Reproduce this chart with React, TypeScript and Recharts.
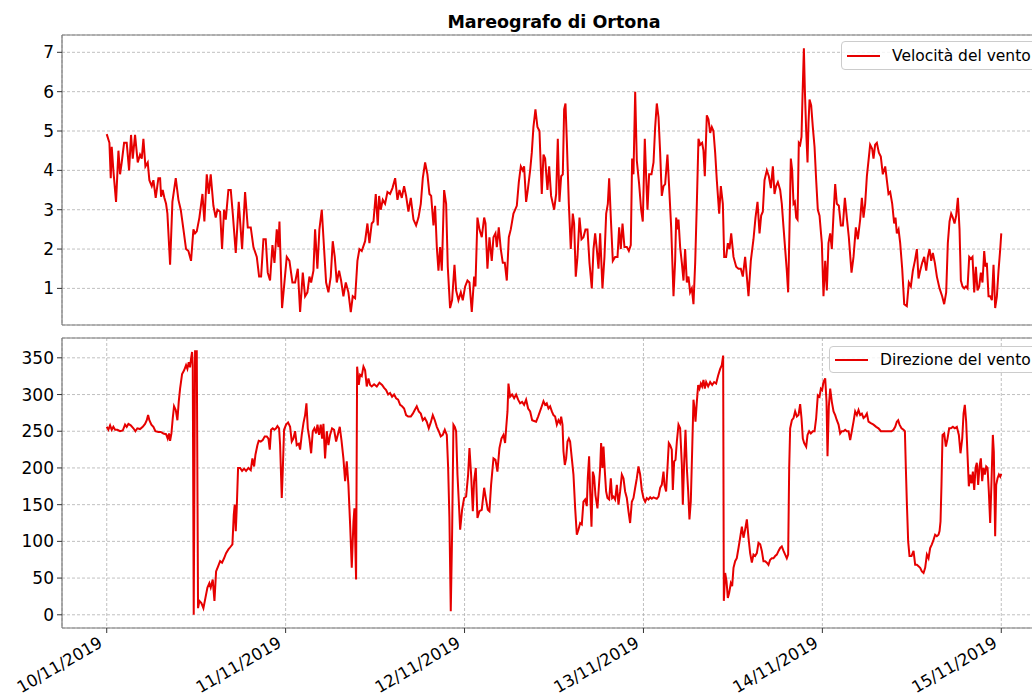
import React from 'react';
import { LineChart, Line, XAxis, YAxis, CartesianGrid, Legend } from 'recharts';

const FONT = '"DejaVu Sans", sans-serif';
const RED = '#e60000';

// hours since 10/11/2019 00:00
const dayTicks = [0, 24, 48, 72, 96, 120];
const dayLabels = ['10/11/2019', '11/11/2019', '12/11/2019', '13/11/2019', '14/11/2019', '15/11/2019'];
const speedTicks = [1, 2, 3, 4, 5, 6, 7];
const dirTicks = [0, 50, 100, 150, 200, 250, 300, 350];

const speedHours = [
  0, 0.36, 0.54, 0.67, 0.89, 1.25, 1.57, 1.79, 2.01, 2.33, 2.68, 3.0, 3.26, 3.49, 3.8, 4.16, 4.47, 4.7, 4.92, 5.19,
  5.5, 5.72, 6.04, 6.26, 6.57, 6.93, 7.16, 7.29, 7.51, 7.74, 7.96, 8.14, 8.5, 8.81, 9.26, 9.62, 9.93, 10.29, 10.64, 10.96,
  11.31, 11.63, 11.85, 12.08, 12.43, 12.84, 13.1, 13.42, 13.69, 13.95, 14.31, 14.62, 14.85, 15.21, 15.47, 15.74, 15.97, 16.32, 16.64, 16.91,
  17.31, 17.71, 18.16, 18.56, 18.92, 19.32, 19.68, 20.13, 20.44, 20.71, 21.02, 21.33, 21.6, 21.91, 22.23, 22.5, 22.81, 23.03, 23.17, 23.52,
  23.79, 24.15, 24.51, 24.91, 25.27, 25.63, 25.94,
  26.3, 26.61, 26.92, 27.19, 27.42, 27.73, 27.95, 28.26, 28.53, 28.85, 29.16, 29.43, 29.74, 30.05, 30.32, 30.59, 30.86, 31.17, 31.44, 31.75,
  32.07, 32.42, 32.74, 33.0, 33.32, 33.63, 33.9, 34.21, 34.66, 34.97, 35.24, 35.55, 35.78, 36.09, 36.36, 36.54, 36.76, 37.03, 37.34, 37.66,
  38.01, 38.33, 38.69, 39.0, 39.27, 39.58, 39.89, 40.16, 40.47, 40.79, 41.15, 41.5, 41.82, 42.13, 42.4, 42.71, 43.02, 43.29, 43.52, 43.83,
  44.05, 44.28, 44.5, 44.72, 44.95, 45.26, 45.53, 45.75, 46.06, 46.33, 46.65, 46.87, 47.18, 47.5, 47.76, 48.08, 48.39, 48.66, 48.97, 49.29,
  49.46, 49.73, 50.0, 50.31, 50.63, 50.81, 51.07, 51.34, 51.65, 51.88, 52.15, 52.33, 52.59, 52.86, 53.13, 53.4, 53.67, 53.94, 54.2, 54.56,
  54.79, 55.01, 55.28, 55.55, 55.81, 55.99, 56.26, 56.48, 56.8, 57.02, 57.24, 57.51, 57.78, 58.05,
  58.36, 58.59, 58.81, 59.12, 59.35, 59.61, 60.02, 60.29, 60.51, 60.73, 60.96, 61.18, 61.36, 61.54, 61.72, 61.99, 62.25, 62.52, 62.7, 62.92,
  63.15, 63.42, 63.69, 63.95, 64.22, 64.49, 64.76, 65.07, 65.3, 65.52, 65.74, 65.97, 66.19, 66.5, 66.77, 67.0, 67.22, 67.4, 67.62, 67.89,
  68.2, 68.52, 68.74, 68.96, 69.19, 69.45, 69.77, 70.04, 70.3, 70.48, 70.66, 70.89, 71.11, 71.42, 71.69, 71.91, 72.18, 72.36, 72.54, 72.76,
  73.08, 73.35, 73.57, 73.79, 74.02, 74.24, 74.46, 74.69, 74.91, 75.22, 75.49, 75.72, 76.03, 76.25, 76.39, 76.57, 76.7, 76.92, 77.15, 77.37,
  77.59, 77.82, 78.04, 78.26, 78.49, 78.71, 78.94, 79.16, 79.38, 79.61, 79.87, 80.05, 80.23, 80.5, 80.72, 80.95, 81.17, 81.39, 81.62, 81.84,
  82.16, 82.38, 82.65, 82.83, 83.09, 83.32, 83.54, 83.77, 84.08, 84.44, 84.75, 85.06, 85.33, 85.64, 85.87, 86.09, 86.4, 86.76, 87.03, 87.3,
  87.57, 87.79, 88.01, 88.24, 88.55, 88.82, 89.09, 89.36, 89.58, 89.8, 90.03,
  90.34, 90.56, 90.79, 91.01, 91.23, 91.41, 91.59, 91.77, 91.95, 92.13, 92.31, 92.49, 92.67, 92.84, 93.02, 93.2, 93.34, 93.52, 93.65, 93.83,
  94.01, 94.14, 94.28, 94.5, 94.72, 94.95, 95.17, 95.39, 95.62, 95.93, 96.15, 96.38, 96.6, 96.82, 97.05, 97.27, 97.5, 97.72, 97.94, 98.21,
  98.48, 98.75, 99.02, 99.28, 99.55, 99.91, 100.18, 100.49, 100.76, 101.07, 101.3, 101.52, 101.74, 101.97, 102.19, 102.41, 102.68, 102.86, 103.08, 103.31,
  103.58, 103.84, 104.11, 104.43, 104.65, 104.87, 105.1, 105.37, 105.63, 105.81, 105.99, 106.22, 106.44, 106.71, 106.98, 107.33, 107.6, 107.87, 108.14, 108.41,
  108.68, 108.9, 109.12, 109.39, 109.66, 109.93, 110.15, 110.38, 110.6, 110.82, 111.09, 111.36, 111.72, 112.07, 112.34, 112.61, 112.83, 113.06, 113.28, 113.5,
  113.73, 113.95, 114.18, 114.4, 114.58, 114.8, 115.03, 115.25, 115.47, 115.7, 115.92, 116.14, 116.37, 116.59, 116.81, 117.04, 117.26, 117.48, 117.71, 117.89,
  118.06, 118.29, 118.51, 118.74, 118.96, 119.18, 119.41, 119.63, 119.86, 120.0,
];
const speedValues = [
  4.92, 4.7, 3.8, 4.6, 4.0, 3.2, 4.5, 3.9, 4.2, 4.7, 4.7, 4.0, 4.9, 4.3, 4.9, 4.2, 4.4, 4.3, 4.8, 4.1,
  4.2, 3.75, 3.6, 3.75, 3.3, 3.8, 3.8, 3.33, 3.5, 3.3, 3.15, 2.9, 1.6, 3.2, 3.8, 3.25, 3.0, 2.5, 2.0, 1.95,
  1.7, 2.5, 2.4, 2.45, 2.8, 3.4, 2.7, 3.9, 3.4, 3.9, 3.1, 2.8, 3.0, 2.95, 2.0, 3.0, 2.75, 3.5, 3.5, 2.9,
  1.9, 3.2, 2.0, 3.45, 2.55, 2.55, 2.05, 1.8, 1.3, 1.3, 2.25, 2.25, 1.4, 1.2, 2.1, 1.65, 2.5, 2.05, 2.7, 0.5,
  1.05, 1.8, 1.7, 1.15, 1.15, 1.5, 0.4,
  1.4, 0.8, 0.9, 1.3, 1.15, 1.45, 2.5, 1.5, 2.5, 3.0, 2.0, 1.15, 0.9, 1.3, 2.2, 1.8, 1.15, 1.45, 1.2, 0.8,
  1.15, 0.9, 0.4, 0.8, 0.75, 1.7, 2.0, 1.95, 2.2, 2.65, 2.15, 2.65, 2.7, 3.4, 2.6, 3.35, 3.0, 3.25, 3.15, 3.45,
  3.4, 3.55, 3.8, 3.25, 3.5, 3.3, 3.6, 3.35, 2.95, 3.3, 2.75, 2.6, 2.8, 3.15, 3.8, 4.2, 3.9, 3.4, 3.35, 2.6,
  3.1, 2.05, 1.45, 2.05, 1.45, 3.5, 3.15, 1.55, 0.5, 0.7, 1.6, 0.95, 0.7, 0.9, 0.7, 1.05, 1.2, 1.15, 0.4, 1.3,
  1.05, 2.8, 2.5, 2.3, 2.8, 2.65, 1.5, 2.3, 1.7, 2.3, 2.4, 2.05, 2.55, 2.0, 1.65, 1.65, 1.2, 2.3, 2.5, 2.9,
  3.0, 3.1, 3.7, 4.1, 4.0, 4.1, 3.2, 3.5, 4.0, 4.45, 5.1, 5.55, 5.1, 5.0,
  3.4, 4.4, 4.3, 3.5, 4.1, 3.35, 3.0, 3.4, 4.8, 3.2, 3.85, 3.9, 5.55, 5.7, 4.75, 3.15, 2.0, 2.9, 2.65, 1.3,
  1.8, 2.8, 2.25, 2.3, 2.5, 2.5, 1.65, 1.0, 2.0, 2.4, 2.0, 1.5, 2.4, 1.0, 1.8, 2.9, 3.15, 3.8, 2.8, 1.7,
  1.8, 1.8, 2.55, 2.0, 2.65, 2.05, 2.05, 1.95, 2.1, 4.3, 3.9, 6.0, 4.25, 3.65, 3.0, 2.7, 4.8, 3.85, 3.0, 3.9,
  3.9, 4.2, 5.1, 5.7, 5.35, 4.45, 3.35, 3.6, 3.65, 4.4, 3.4, 2.55, 0.8, 1.7, 2.8, 2.5, 2.75, 2.05, 1.65, 1.2,
  2.0, 1.15, 1.3, 0.9, 1.0, 0.6, 1.65, 3.15, 4.8, 4.65, 4.7, 4.5, 3.85, 5.4, 5.3, 4.95, 5.1, 5.0, 4.45, 3.75,
  2.9, 3.6, 3.15, 1.8, 1.8, 2.15, 2.0, 2.4, 1.8, 1.55, 1.5, 1.5, 1.3, 1.8, 1.3, 0.8, 1.7, 2.25, 2.8, 3.2,
  2.4, 2.85, 2.95, 3.75, 4.0, 3.85, 3.55, 4.1, 3.4, 3.6, 3.7,
  3.5, 3.15, 2.55, 2.0, 1.45, 0.9, 2.5, 4.3, 4.0, 3.15, 3.2, 2.8, 2.75, 4.7, 4.65, 4.85, 5.9, 7.1, 6.05, 5.0,
  4.2, 5.2, 5.8, 5.65, 5.1, 4.6, 3.75, 3.0, 2.85, 2.15, 0.8, 1.7, 0.95, 2.15, 2.4, 2.0, 2.9, 3.65, 3.15, 3.1,
  2.6, 2.6, 3.3, 2.8, 2.3, 1.4, 1.8, 2.55, 2.25, 2.75, 3.3, 2.8, 3.15, 3.85, 4.25, 4.65, 4.55, 4.3, 4.65, 4.7,
  4.45, 4.35, 3.9, 4.1, 3.75, 3.4, 3.45, 3.15, 2.65, 2.8, 2.4, 2.5, 2.15, 1.5, 0.6, 0.55, 1.15, 1.05, 1.45, 1.7,
  2.0, 1.25, 1.45, 1.65, 1.8, 1.45, 1.8, 2.0, 1.7, 1.9, 1.65, 1.3, 1.0, 0.8, 0.6, 0.9, 2.15, 2.7, 2.9, 2.8,
  2.65, 2.85, 3.3, 2.5, 1.2, 1.05, 1.0, 1.05, 1.0, 1.8, 1.75, 1.8, 0.9, 1.55, 0.95, 1.05, 1.4, 1.15, 1.95, 1.55,
  1.65, 0.8, 0.8, 0.7, 1.6, 0.5, 0.8, 1.45, 2.0, 2.4,
];

const dirHours = [
  0, 0.22, 0.45, 0.67, 0.89, 1.12, 1.43, 1.79, 2.15, 2.46, 2.68, 2.91, 3.22, 3.58, 3.85, 4.11, 4.47, 4.83, 5.14, 5.37,
  5.55, 5.72, 5.99, 6.26, 6.53, 6.93, 7.25, 7.6, 7.96, 8.18, 8.36, 8.5, 8.68, 8.86, 9.03, 9.26, 9.48, 9.66, 9.84, 10.11,
  10.38, 10.64, 10.82, 11.0, 11.18, 11.31, 11.45, 11.54, 11.67, 11.85, 12.08, 12.25, 12.43, 12.7, 12.97, 13.24, 13.51, 13.77, 13.95, 14.22,
  14.45, 14.67, 14.94, 15.21, 15.47, 15.74, 16.01, 16.32, 16.64, 16.86, 17.04, 17.17, 17.31, 17.44, 17.62, 17.89, 18.16, 18.43, 18.69, 19.01,
  19.32, 19.54, 19.77, 19.95, 20.21, 20.39, 20.66, 20.93, 21.2, 21.47, 21.69, 21.87, 22.05, 22.27, 22.5, 22.72, 22.9, 23.12, 23.26, 23.48,
  23.61, 23.79, 24.06, 24.33, 24.6, 24.82, 25.04, 25.27, 25.49, 25.76,
  25.94, 26.16, 26.39, 26.61, 26.79, 26.97, 27.19, 27.42, 27.64, 27.86, 28.09, 28.27, 28.49, 28.71, 28.89, 29.07, 29.29, 29.52, 29.74, 29.96,
  30.23, 30.5, 30.77, 31.04, 31.26, 31.49, 31.75, 31.98, 32.2, 32.42, 32.65, 32.87, 33.1, 33.23, 33.45, 33.59, 33.81, 33.99, 34.21, 34.44,
  34.66, 34.88, 35.11, 35.33, 35.55, 35.87, 36.23, 36.58, 36.94, 37.21, 37.48, 37.75, 38.01, 38.28, 38.55, 38.82, 39.09, 39.36, 39.62, 39.89,
  40.16, 40.43, 40.79, 41.06, 41.32, 41.59, 41.86, 42.13, 42.4, 42.67, 42.93, 43.2, 43.47, 43.74, 44.01, 44.28, 44.54, 44.81, 45.08, 45.35,
  45.62, 45.8, 45.97, 46.15, 46.33, 46.51, 46.69, 46.87, 47.05, 47.23, 47.41, 47.67, 47.94, 48.21, 48.48, 48.66, 48.88, 49.11, 49.28, 49.51,
  49.73, 50.0, 50.31, 50.63, 50.85, 51.12, 51.34, 51.56, 51.88, 52.15, 52.41, 52.68, 52.95, 53.22, 53.44, 53.58, 53.76, 53.89, 54.11, 54.38,
  54.65, 54.92, 55.19, 55.45, 55.72, 55.99, 56.26, 56.53, 56.8, 57.07, 57.33, 57.6, 57.87,
  58.36, 58.59, 58.81, 59.03, 59.26, 59.48, 59.71, 59.93, 60.15, 60.38, 60.6, 60.82, 60.96, 61.14, 61.27, 61.45, 61.63, 61.81, 61.99, 62.16,
  62.39, 62.61, 62.84, 63.06, 63.28, 63.51, 63.73, 63.95, 64.18, 64.4, 64.53, 64.71, 64.85, 65.03, 65.21, 65.38, 65.56, 65.83, 66.01, 66.19,
  66.32, 66.5, 66.64, 66.82, 66.99, 67.17, 67.4, 67.62, 67.8, 67.98, 68.2, 68.43, 68.65, 68.87, 69.1, 69.32, 69.54, 69.77, 69.99, 70.21,
  70.44, 70.66, 70.89, 71.11, 71.33, 71.56, 71.78, 72.0, 72.23, 72.45, 72.67, 72.9, 73.12, 73.35, 73.57, 73.79, 74.02, 74.24, 74.46, 74.69,
  74.82, 75.04, 75.22, 75.4, 75.58, 75.8, 75.94, 76.12, 76.3, 76.48, 76.7, 76.92, 77.15, 77.28, 77.46, 77.64, 77.82, 78.0, 78.17, 78.35,
  78.53, 78.71, 78.85, 78.98, 79.16, 79.34, 79.52, 79.7, 79.87, 80.05, 80.23, 80.41, 80.68, 80.95, 81.22, 81.48, 81.75, 82.02, 82.29, 82.51,
  82.69, 82.78, 82.96, 83.14, 83.32, 83.5, 83.72, 83.9, 84.08, 84.3, 84.52, 84.75, 84.97, 85.2, 85.42, 85.64, 85.87, 86.09, 86.31, 86.54,
  86.76, 86.98, 87.21, 87.43, 87.66, 87.88, 88.1, 88.33, 88.55, 88.77, 89.0, 89.22, 89.44, 89.67, 89.89, 90.12,
  90.34, 90.56, 90.79, 91.01, 91.23, 91.41, 91.55, 91.68, 91.91, 92.13, 92.35, 92.58, 92.8, 93.02, 93.2, 93.38, 93.56, 93.83, 94.01, 94.23,
  94.45, 94.72, 94.95, 95.17, 95.39, 95.62, 95.8, 95.97, 96.15, 96.38, 96.56, 96.69, 96.87, 97.05, 97.27, 97.5, 97.72, 97.94, 98.17, 98.39,
  98.61, 98.84, 99.06, 99.28, 99.51, 99.73, 99.95, 100.18, 100.4, 100.63, 100.85, 101.07, 101.3, 101.52, 101.74, 101.97, 102.19, 102.5, 102.86, 103.22,
  103.53, 103.85, 104.2, 104.56, 104.92, 105.28, 105.54, 105.77, 105.99, 106.17, 106.35, 106.62, 106.89, 107.07, 107.2, 107.33, 107.51, 107.69, 107.96, 108.23,
  108.45, 108.68, 108.9, 109.12, 109.35, 109.57, 109.79, 110.02, 110.24, 110.46, 110.69, 110.91, 111.13, 111.36, 111.58, 111.72, 111.85, 111.98, 112.12, 112.34,
  112.57, 112.79, 113.01, 113.24, 113.51, 113.77, 114.04, 114.31, 114.53, 114.76, 114.94, 115.11, 115.29, 115.47, 115.65, 115.83, 116.01, 116.19, 116.37, 116.55,
  116.72, 116.9, 117.08, 117.26, 117.44, 117.62, 117.8, 117.98, 118.16, 118.33, 118.51, 118.69, 118.87, 119.0, 119.18, 119.32, 119.5, 119.68, 119.86, 120.0,
];
const dirValues = [
  256, 252, 258, 252, 256, 252, 252, 250, 251, 259, 256, 260, 258, 254, 250, 254, 253, 256, 260, 265,
  272, 265, 259, 256, 250, 249, 249, 247, 246, 240, 247, 237, 247, 268, 284, 279, 265, 290, 308, 328,
  333, 340, 335, 344, 337, 349, 358, 340, 0, 359, 359, 9, 19, 16, 9, 23, 37, 43, 37, 48,
  19, 59, 66, 73, 71, 77, 84, 89, 93, 96, 136, 150, 114, 145, 200, 200, 196, 199, 196, 200,
  197, 213, 202, 218, 231, 237, 236, 238, 243, 243, 240, 225, 252, 254, 252, 254, 257, 254, 231, 159,
  195, 252, 259, 262, 256, 236, 240, 250, 231, 233,
  225, 245, 261, 272, 288, 254, 240, 220, 250, 254, 247, 259, 245, 259, 240, 260, 213, 250, 231, 245,
  254, 252, 236, 247, 256, 238, 213, 182, 209, 177, 123, 64, 127, 145, 48, 338, 313, 327, 325, 338,
  333, 311, 322, 313, 311, 314, 311, 316, 313, 309, 306, 300, 302, 297, 300, 295, 293, 286, 284, 281,
  272, 270, 270, 274, 279, 284, 277, 274, 265, 268, 263, 254, 262, 272, 265, 256, 250, 243, 245, 252,
  245, 200, 132, 5, 109, 259, 256, 250, 191, 154, 116, 143, 159, 161, 191, 227, 191, 141, 182, 200,
  132, 141, 143, 173, 159, 143, 141, 177, 213, 211, 195, 227, 240, 245, 234, 254, 277, 315, 297, 300,
  295, 300, 293, 288, 290, 286, 293, 281, 277, 265, 264, 263, 270,
  284, 291, 286, 288, 281, 284, 277, 272, 270, 259, 265, 261, 270, 259, 223, 204, 213, 236, 240, 236,
  213, 191, 145, 109, 116, 125, 123, 154, 157, 148, 186, 216, 168, 120, 195, 188, 163, 145, 173, 200,
  234, 200, 229, 195, 168, 159, 157, 186, 159, 161, 157, 177, 150, 168, 191, 186, 168, 159, 141, 125,
  154, 159, 173, 186, 202, 191, 170, 159, 154, 159, 157, 160, 158, 160, 159, 158, 161, 173, 177, 195,
  177, 168, 200, 234, 231, 225, 170, 209, 211, 236, 259, 254, 204, 150, 207, 252, 200, 168, 130, 154,
  222, 293, 281, 263, 290, 313, 308, 315, 311, 320, 308, 317, 311, 317, 313, 317, 315, 326, 335, 340,
  353, 19, 57, 46, 23, 30, 43, 39, 64, 73, 77, 91, 105, 120, 105, 116, 130, 105, 84, 71,
  82, 80, 84, 98, 96, 87, 73, 73, 71, 68, 75, 77, 77, 80, 82, 87,
  91, 93, 87, 82, 77, 82, 200, 254, 265, 268, 277, 270, 272, 287, 268, 240, 234, 229, 245, 250,
  247, 250, 250, 268, 299, 297, 308, 306, 317, 322, 290, 216, 284, 308, 290, 277, 272, 265, 259, 247,
  250, 250, 252, 250, 250, 238, 250, 263, 277, 272, 279, 272, 274, 268, 270, 274, 263, 261, 259, 256,
  254, 250, 250, 250, 250, 250, 252, 256, 263, 265, 259, 254, 252, 250, 200, 154, 100, 80, 80, 87,
  68, 68, 66, 64, 59, 57, 64, 82, 77, 91, 96, 102, 109, 107, 109, 114, 127, 177, 245, 247,
  229, 240, 254, 254, 256, 254, 256, 245, 220, 240, 274, 286, 263, 218, 175, 191, 179, 195, 170, 200,
  207, 177, 202, 213, 182, 200, 191, 202, 200, 168, 125, 182, 245, 222, 107, 177, 186, 191, 188, 192,
];

const speedData = speedHours.map((t, i) => ({ t, v: speedValues[i] }));
const dirData = dirHours.map((t, i) => ({ t, v: dirValues[i] }));

const SPINE = '#7a7a7a';
const GRID = '#b0b0b0';

const LegendBox = ({ label, h }: { label: string; h: number }) => (
  <div
    style={{
      display: 'flex',
      alignItems: 'center',
      height: h,
      boxSizing: 'border-box',
      border: '1px solid #cccccc',
      borderRadius: 4,
      background: 'rgba(255,255,255,0.8)',
      paddingLeft: 5,
      paddingRight: 8,
      fontFamily: FONT,
      fontSize: 15.5,
      color: '#000',
      whiteSpace: 'nowrap',
    }}
  >
    <svg width={33} height={4} style={{ display: 'block' }}>
      <line x1={0} x2={33} y1={2} y2={2} stroke={RED} strokeWidth={2} />
    </svg>
    <span style={{ marginLeft: 12 }}>{label}</span>
  </div>
);

const DateTick = (props: any) => {
  const { x, y, payload } = props;
  const idx = dayTicks.indexOf(payload.value);
  const label = idx >= 0 ? dayLabels[idx] : '';
  const ax = x - 3;
  const ay = y + 11;
  return (
    <text
      x={ax}
      y={ay}
      transform={`rotate(-30 ${ax} ${ay})`}
      textAnchor="end"
      fontSize={16.5}
      fontFamily={FONT}
      fill="#000"
    >
      {label}
    </text>
  );
};

const yTick = { fontSize: 17, fill: '#000', fontFamily: FONT };

export default function App() {
  return (
    <div
      style={{
        position: 'absolute',
        left: 0,
        top: 0,
        width: 1032,
        height: 699,
        overflow: 'hidden',
        background: '#fff',
        fontFamily: FONT,
      }}
    >
      <div style={{ position: 'absolute', left: 0, top: 0 }}>
        <LineChart width={1060} height={335} data={speedData} margin={{ top: 34, right: 14, bottom: 0, left: 0 }}>
          <CartesianGrid stroke={GRID} strokeDasharray="3 2" strokeWidth={0.8} />
          <XAxis
            dataKey="t"
            type="number"
            domain={[-6, 126]}
            ticks={dayTicks}
            allowDataOverflow
            height={10}
            tick={false}
            tickSize={5}
            tickLine={{ stroke: '#333' }}
            axisLine={{ stroke: SPINE, strokeWidth: 1.2 }}
          />
          <XAxis
            xAxisId="top"
            orientation="top"
            dataKey="t"
            type="number"
            domain={[-6, 126]}
            ticks={dayTicks}
            allowDataOverflow
            height={1}
            tick={false}
            tickLine={false}
            axisLine={{ stroke: SPINE, strokeWidth: 1.2 }}
          />
          <YAxis
            type="number"
            domain={[0.07, 7.44]}
            ticks={speedTicks}
            allowDataOverflow
            interval={0}
            width={62}
            tickSize={5}
            tickMargin={3}
            tick={yTick}
            tickLine={{ stroke: '#333' }}
            axisLine={{ stroke: SPINE, strokeWidth: 1.2 }}
          />
          <Line dataKey="v" type="linear" stroke={RED} strokeWidth={2} dot={false} activeDot={false} isAnimationActive={false} />
          <Legend
            layout="vertical"
            align="center"
            verticalAlign="middle"
            wrapperStyle={{ left: 841, top: 41, width: 'auto' }}
            content={() => <LegendBox label="Velocità del vento" h={29} />}
          />
        </LineChart>
      </div>
      <div style={{ position: 'absolute', left: 0, top: 330 }}>
        <LineChart width={1060} height={369} data={dirData} margin={{ top: 7, right: 14, bottom: 0, left: 0 }}>
          <CartesianGrid stroke={GRID} strokeDasharray="3 2" strokeWidth={0.8} />
          <XAxis
            dataKey="t"
            type="number"
            domain={[-6, 126]}
            ticks={dayTicks}
            allowDataOverflow
            interval={0}
            height={71}
            tick={<DateTick />}
            tickSize={5}
            tickMargin={2}
            tickLine={{ stroke: '#333' }}
            axisLine={{ stroke: SPINE, strokeWidth: 1.2 }}
          />
          <XAxis
            xAxisId="top"
            orientation="top"
            dataKey="t"
            type="number"
            domain={[-6, 126]}
            ticks={dayTicks}
            allowDataOverflow
            height={1}
            tick={false}
            tickLine={false}
            axisLine={{ stroke: SPINE, strokeWidth: 1.2 }}
          />
          <YAxis
            type="number"
            domain={[-18, 377]}
            ticks={dirTicks}
            allowDataOverflow
            interval={0}
            width={62}
            tickSize={5}
            tickMargin={3}
            tick={yTick}
            tickLine={{ stroke: '#333' }}
            axisLine={{ stroke: SPINE, strokeWidth: 1.2 }}
          />
          <Line dataKey="v" type="linear" stroke={RED} strokeWidth={2} dot={false} activeDot={false} isAnimationActive={false} />
          <Legend
            layout="vertical"
            align="center"
            verticalAlign="middle"
            wrapperStyle={{ left: 829, top: 16, width: 'auto' }}
            content={() => <LegendBox label="Direzione del vento" h={27} />}
          />
        </LineChart>
      </div>
      <div
        style={{
          position: 'absolute',
          left: 0,
          top: 11,
          width: 1108,
          textAlign: 'center',
          fontFamily: FONT,
          fontWeight: 'bold',
          fontSize: 17.5,
          lineHeight: '22px',
          color: '#000',
        }}
      >
        Mareografo di Ortona
      </div>
    </div>
  );
}
